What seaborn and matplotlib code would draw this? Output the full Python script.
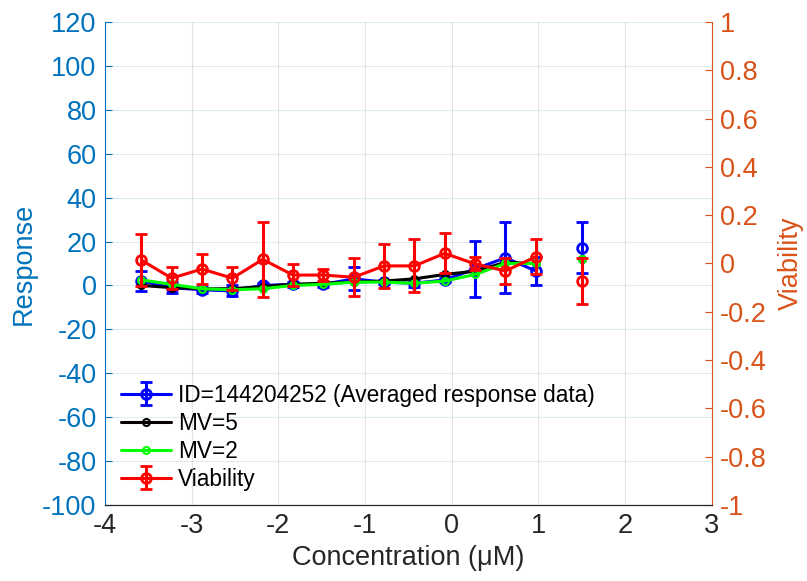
import matplotlib
matplotlib.use("Agg")
import matplotlib.pyplot as plt
import seaborn as sns
import numpy as np
import pandas as pd

# ---- data ----
conc = [-3.58, -3.23, -2.88, -2.53, -2.18, -1.83, -1.48, -1.13, -0.78, -0.43, -0.08, 0.27, 0.62, 0.97, 1.50]
resp_avg = [2.0, -1.0, -2.0, -2.5, 0.0, 0.5, 0.5, 3.0, 1.5, 1.0, 2.5, 7.5, 12.6, 6.6, 17.2]
resp_err = [4.5, 2.5, 1.5, 2.5, 1.0, 1.0, 1.0, 5.2, 1.0, 1.5, 1.0, 12.8, 16.2, 6.5, 11.5]
mv5 = [0.0, -1.0, -1.5, -1.5, -0.5, 0.5, 1.0, 1.5, 2.0, 3.0, 5.0, 6.5, 10.5, 10.0, 12.0]
mv2 = [2.5, 0.5, -1.5, -2.0, -1.5, 0.0, 0.5, 1.5, 1.5, 1.0, 2.0, 5.0, 10.0, 10.0, 12.0]
viab = [0.014, -0.061, -0.023, -0.061, 0.017, -0.048, -0.048, -0.057, -0.010, -0.010, 0.042, -0.002, -0.031, 0.028, -0.072]
viab_err = [0.108, 0.045, 0.062, 0.048, 0.154, 0.045, 0.026, 0.078, 0.090, 0.110, 0.083, 0.027, 0.055, 0.072, 0.095]
xticks = [-4, -3, -2, -1, 0, 1, 2, 3]
yticks_left = [-100, -80, -60, -40, -20, 0, 20, 40, 60, 80, 100, 120]
yticks_right = [-1, -0.8, -0.6, -0.4, -0.2, 0, 0.2, 0.4, 0.6, 0.8, 1]
yticklabels_right = ["-1", "-0.8", "-0.6", "-0.4", "-0.2", "0", "0.2", "0.4", "0.6", "0.8", "1"]
labels = ["ID=144204252 (Averaged response data)", "MV=5", "MV=2", "Viability"]

sns.set_theme(style="white")
plt.rcParams["font.family"] = ["Liberation Sans", "DejaVu Sans"]

LEFT_C = "#0072BD"
RIGHT_C = "#D95319"
DARK = "#262626"

fig = plt.figure(figsize=(8.07, 5.81), dpi=100)
ax = fig.add_axes([0.130, 0.131, 0.752, 0.831])
ax2 = ax.twinx()

n_line = 14  # last point not connected
x = np.array(conc)

# blue averaged response with error bars
hb = ax.errorbar(x[:n_line], resp_avg[:n_line], yerr=resp_err[:n_line], fmt='-o', color='#0000FF',
                 lw=2.2, ms=7, mfc='none', mew=2, capsize=4, elinewidth=2.2, capthick=2.2, zorder=3)
ax.errorbar(x[n_line:], resp_avg[n_line:], yerr=resp_err[n_line:], fmt='o', color='#0000FF',
            ms=7, mfc='none', mew=2, capsize=4, elinewidth=2.2, capthick=2.2, zorder=3)

df = pd.DataFrame({"conc": conc, "mv5": mv5, "mv2": mv2})
sns.lineplot(data=df.iloc[:n_line], x="conc", y="mv5", ax=ax, color='black', lw=2.2,
             marker='o', ms=5, mfc='none', mec='black', mew=1.5, zorder=4, legend=False)
sns.lineplot(data=df.iloc[:n_line], x="conc", y="mv2", ax=ax, color='#00FF00', lw=2.2,
             marker='o', ms=5, mfc='none', mec='#00FF00', mew=1.5, zorder=5, legend=False)
ax.plot(x[n_line:], df["mv5"].values[n_line:], 'o', color='black', ms=5, mfc='none', mew=1.5, zorder=4)
ax.plot(x[n_line:], df["mv2"].values[n_line:], 'o', color='#00FF00', ms=5, mfc='none', mew=1.5, zorder=5)
hk, = ax.plot([], [], '-o', color='black', lw=2.2, ms=5, mfc='none', mew=1.5)
hg, = ax.plot([], [], '-o', color='#00FF00', lw=2.2, ms=5, mfc='none', mew=1.5)

# red viability on right axis
hr = ax2.errorbar(x[:n_line], viab[:n_line], yerr=viab_err[:n_line], fmt='-o', color='#FF0000',
                  lw=2.2, ms=7, mfc='none', mew=2, capsize=4, elinewidth=2.2, capthick=2.2, zorder=3)
ax2.errorbar(x[n_line:], viab[n_line:], yerr=viab_err[n_line:], fmt='o', color='#FF0000',
             ms=7, mfc='none', mew=2, capsize=4, elinewidth=2.2, capthick=2.2, zorder=3)

# axes limits & ticks
ax.set_xlim(-4, 3)
ax.set_ylim(-100, 120)
ax2.set_ylim(-1, 1)
ax.set_xticks(xticks)
ax.set_xticklabels([str(t) for t in xticks])
ax.set_yticks(yticks_left)
ax.set_yticklabels([str(t) for t in yticks_left])
ax2.set_yticks(yticks_right)
ax2.set_yticklabels(yticklabels_right)

FS = 19.5
ax.tick_params(axis='x', direction='in', length=5, colors=DARK, labelsize=FS, pad=6, width=0.8)
ax.tick_params(axis='y', direction='in', length=5, colors=LEFT_C, labelsize=FS, pad=6, width=0.8)
ax2.tick_params(axis='y', direction='in', length=5, colors=RIGHT_C, labelsize=FS, pad=6, width=0.8)

ax.set_xlabel("Concentration (μM)", fontsize=FS, color=DARK, labelpad=4)
ax.set_ylabel("Response", fontsize=FS, color=LEFT_C, labelpad=4)
ax2.set_ylabel("Viability", fontsize=FS, color=RIGHT_C, labelpad=8)

# grid
ax.grid(True, axis='y', color=LEFT_C, alpha=0.13, lw=0.8)
ax.grid(True, axis='x', color='#262626', alpha=0.12, lw=0.8)
ax.set_axisbelow(True)

for a in (ax, ax2):
    a.spines['top'].set_visible(False)
    a.spines['left'].set_color(LEFT_C)
    a.spines['right'].set_color(RIGHT_C)
    a.spines['bottom'].set_color(DARK)
    for s in a.spines.values():
        s.set_linewidth(0.8)
ax2.spines['left'].set_visible(False)
ax.spines['right'].set_visible(False)

leg = ax2.legend([hb, hk, hg, hr], labels, loc='lower left', bbox_to_anchor=(-0.003, -0.008),
                 frameon=False, fontsize=16.3, handlelength=2.2, handletextpad=0.3,
                 labelspacing=0.22, borderaxespad=0.4)
for t in leg.get_texts():
    t.set_color('black')

fig.savefig("out.png", dpi=100)
